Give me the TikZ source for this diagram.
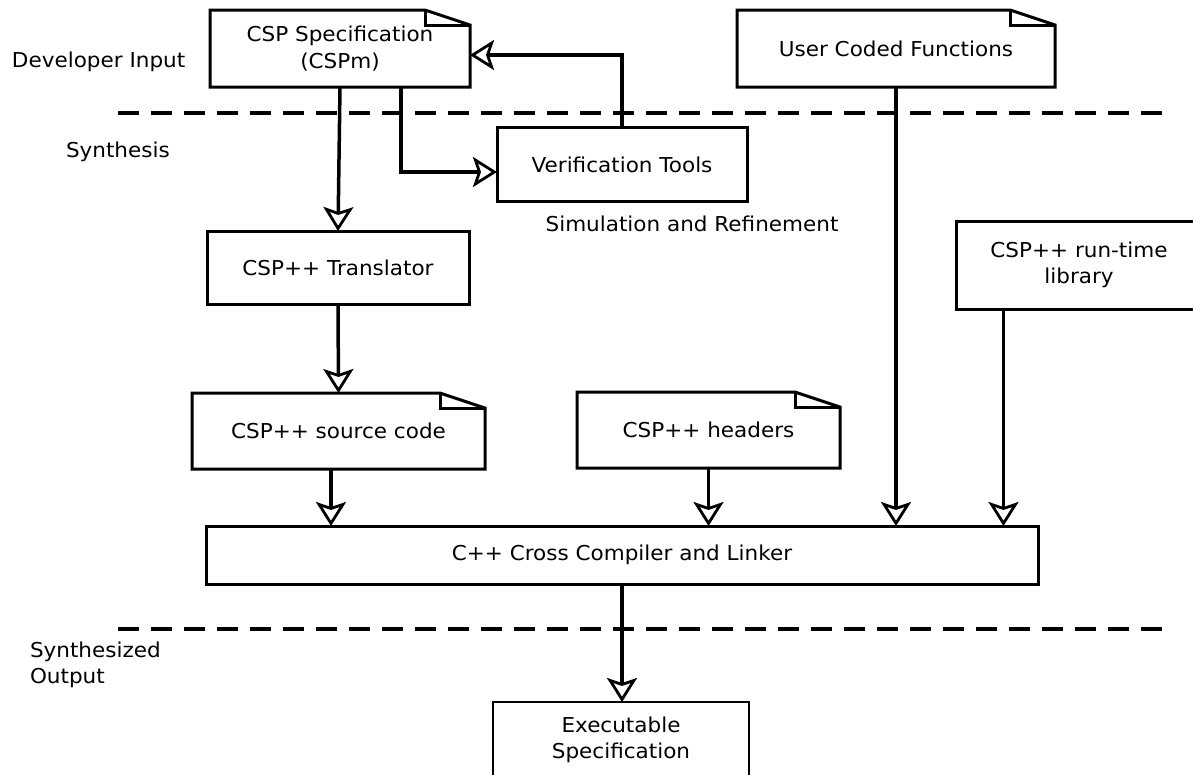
\documentclass[tikz,border=0pt]{standalone}
\usepackage{fontspec}
\setmainfont{DejaVu Sans}[FakeStretch=1.05]
\usetikzlibrary{arrows.meta,positioning,calc}
\newcommand{\txtsize}{\fontsize{20.5}{26.5}\selectfont}
\tikzset{
  box/.style={draw, line width=3pt, inner sep=0pt, outer sep=0pt, align=center, font=\txtsize},
  docbox/.style={box, draw=none},
  lbl/.style={inner sep=0pt, outer sep=0pt, align=left, font=\txtsize},
  flow/.style={line width=3.5pt, -{Stealth[open, line width=2.8pt, length=24pt, width=30pt, inset=5pt]}},
  sepline/.style={line width=3.5pt, dash pattern=on 21pt off 12pt},
}
% outline of a document with a folded corner
\newcommand{\docoutline}[1]{%
  \draw[line width=3pt] (#1.south west) -- (#1.north west)
    -- ([xshift=-45pt]#1.north east) -- ([yshift=-15pt]#1.north east)
    -- (#1.south east) -- cycle;
  \draw[line width=3pt] ([xshift=-45pt]#1.north east) |- ([yshift=-15pt]#1.north east);}

\begin{document}
\begin{tikzpicture}[x=1pt, y=-1pt]
  \useasboundingbox (0,0) rectangle (1193,774);
  \clip (0,0) rectangle (1193,774);

  % phase separators and labels
  \draw[sepline] (118,113) -- (1165,113);
  \draw[sepline] (118,629) -- (1165,629);
  \node[lbl, anchor=west] (devinput) at (12,62) {Developer Input};
  \node[lbl, anchor=west] (synth) at (66,152) {Synthesis};
  \node[lbl, anchor=west] (synthout) at (30,665) {Synthesized\\Output};

  % developer input
  \node[docbox, minimum width=260pt, minimum height=77pt] (spec) at (340,48.5) {CSP Specification\\(CSPm)};
  \docoutline{spec}
  \node[docbox, minimum width=318pt, minimum height=77pt] (usercode) at (896,48.5) {User Coded Functions};
  \docoutline{usercode}

  % synthesis
  \node[box, minimum width=250pt, minimum height=74pt] (verif) at (622,164.5) {Verification Tools};
  \node[lbl] (simref) at (692,224) {Simulation and Refinement};
  \node[box, minimum width=262pt, minimum height=73pt] (trans) at (338,267.5) {CSP++ Translator};
  \node[box, minimum width=246pt, minimum height=88pt] (runtime) at (1079,265) {CSP++ run-time\\library};
  \node[docbox, minimum width=293pt, minimum height=76pt] (source) at (338.5,431) {CSP++ source code};
  \docoutline{source}
  \node[docbox, minimum width=263pt, minimum height=76pt] (headers) at (708.5,430) {CSP++ headers};
  \docoutline{headers}
  \node[box, minimum width=832pt, minimum height=58pt] (compiler) at (622,555) {C++ Cross Compiler and Linker};

  % synthesized output
  \node[box, line width=2.5pt, minimum width=256pt, minimum height=76pt] (exec) at (621,740) {Executable\\Specification};

  % connectors
  \draw[flow] (spec.south) -- (trans.north);
  \draw[flow] ([xshift=61pt]spec.south) |- ([yshift=-7.5pt]verif.west);
  \draw[flow] (verif.north) |- ([yshift=-6.5pt]spec.east);
  \draw[flow] (trans.south) -- (source.north);
  \draw[flow] ([xshift=-7.5pt]source.south) -- ([xshift=-7.5pt]source.south |- compiler.north);
  \draw[flow] (headers.south) -- (headers.south |- compiler.north);
  \draw[flow] (usercode.south) -- (usercode.south |- compiler.north);
  \draw[flow] ([xshift=-75.5pt]runtime.south) -- ([xshift=-75.5pt]runtime.south |- compiler.north);
  \draw[flow] (compiler.south) -- (compiler.south |- exec.north);
\end{tikzpicture}
\end{document}
